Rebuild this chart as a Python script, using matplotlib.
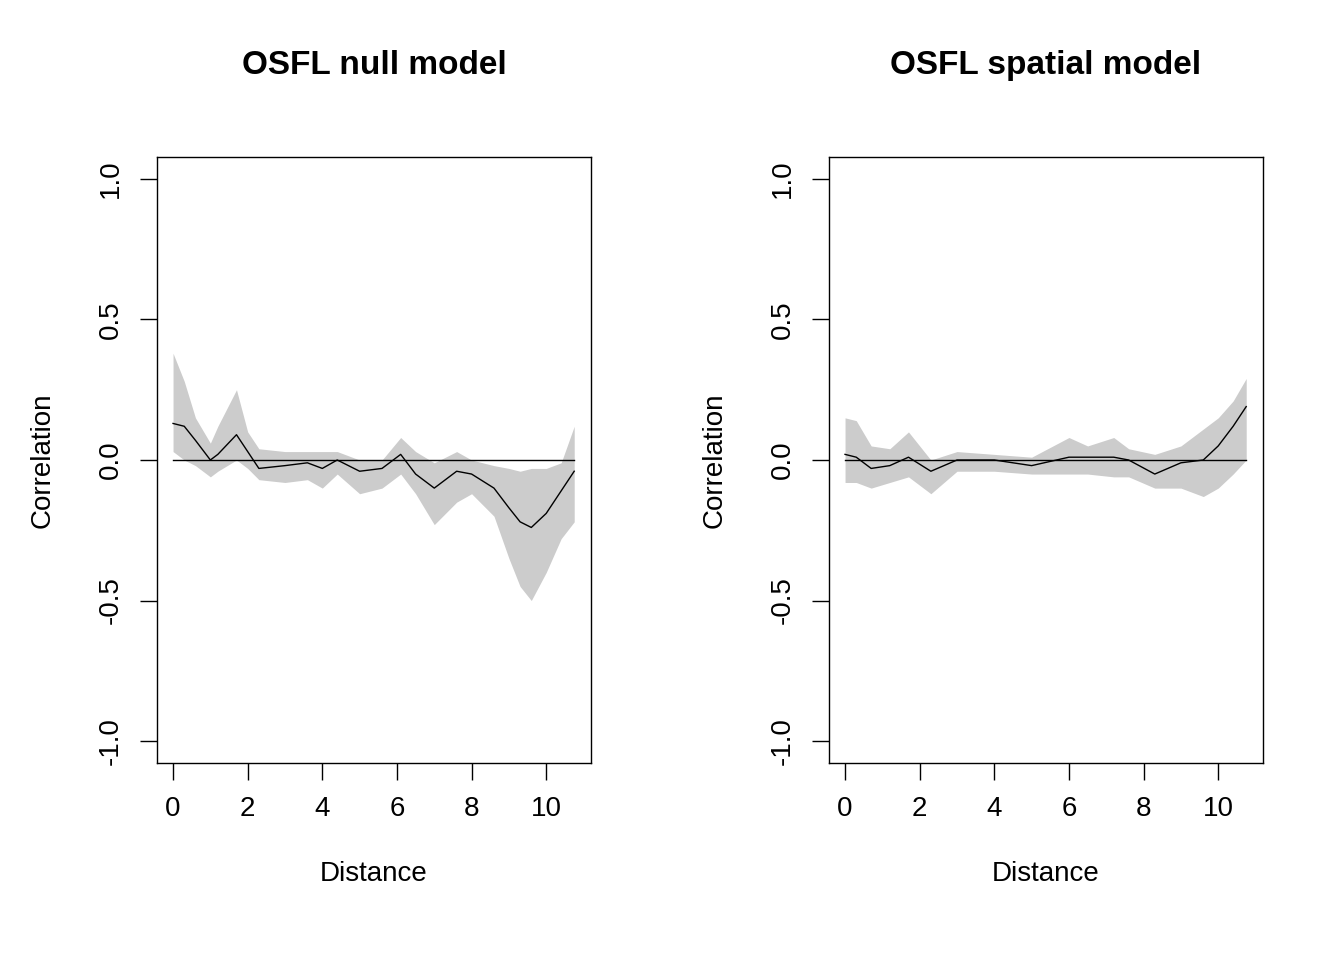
import numpy as np
from matplotlib import pyplot as plt

plt.rcParams['font.family'] = ['Liberation Sans', 'DejaVu Sans']

# null model
null_x = [0, 0.3, 0.6, 1.0, 1.2, 1.7, 2.0, 2.3, 3.0, 3.6, 4.0, 4.4, 5.0, 5.6, 6.1, 6.5, 7.0, 7.6, 8.0, 8.6, 9.0, 9.3, 9.6, 10.0, 10.4, 10.75]
null_mean = [0.13, 0.12, 0.07, 0.0, 0.02, 0.09, 0.03, -0.03, -0.02, -0.01, -0.03, 0.0, -0.04, -0.03, 0.02, -0.05, -0.10, -0.04, -0.05, -0.10, -0.17, -0.22, -0.24, -0.19, -0.11, -0.04]
null_up = [0.38, 0.28, 0.15, 0.06, 0.12, 0.25, 0.10, 0.04, 0.03, 0.03, 0.03, 0.03, 0.0, 0.0, 0.08, 0.03, -0.01, 0.03, 0.0, -0.02, -0.03, -0.04, -0.03, -0.03, -0.01, 0.12]
null_lo = [0.03, 0.0, -0.02, -0.06, -0.04, 0.0, -0.03, -0.07, -0.08, -0.07, -0.10, -0.05, -0.12, -0.10, -0.05, -0.12, -0.23, -0.15, -0.12, -0.20, -0.35, -0.45, -0.50, -0.40, -0.28, -0.22]

# spatial model
sp_x = [0, 0.3, 0.7, 1.2, 1.7, 2.3, 3.0, 4.0, 5.0, 6.0, 6.5, 7.2, 7.6, 8.3, 9.0, 9.6, 10.0, 10.4, 10.75]
sp_mean = [0.02, 0.01, -0.03, -0.02, 0.01, -0.04, 0.0, 0.0, -0.02, 0.01, 0.01, 0.01, 0.0, -0.05, -0.01, 0.0, 0.05, 0.12, 0.19]
sp_up = [0.15, 0.14, 0.05, 0.04, 0.10, 0.0, 0.03, 0.02, 0.01, 0.08, 0.05, 0.08, 0.04, 0.02, 0.05, 0.11, 0.15, 0.21, 0.29]
sp_lo = [-0.08, -0.08, -0.10, -0.08, -0.06, -0.12, -0.04, -0.04, -0.05, -0.05, -0.05, -0.06, -0.06, -0.10, -0.10, -0.13, -0.10, -0.05, 0.0]

panels = [("OSFL null model", null_x, null_mean, null_up, null_lo),
          ("OSFL spatial model", sp_x, sp_mean, sp_up, sp_lo)]

fig = plt.figure(figsize=(13.44, 9.6), dpi=100)
lefts = [157, 829]
for left, (title, x, m, up, lo) in zip(lefts, panels):
    ax = fig.add_axes([left / 1344, 197 / 960, 434 / 1344, 606 / 960])
    ax.fill_between(x, lo, up, color='#cccccc', linewidth=0)
    ax.plot(x, m, color='black', lw=1)
    ax.plot([0, x[-1]], [0, 0], color='black', lw=1)
    ax.set_xlim(-0.43, 11.2)
    ax.set_ylim(-1.078, 1.078)
    ax.set_xticks([0, 2, 4, 6, 8, 10])
    ax.set_yticks([-1.0, -0.5, 0.0, 0.5, 1.0])
    ax.set_yticklabels(['-1.0', '-0.5', '0.0', '0.5', '1.0'], rotation=90, va='center')
    ax.tick_params(direction='out', length=12, width=1, labelsize=20, pad=12)
    for s in ax.spines.values():
        s.set_linewidth(1)
    ax.set_xlabel("Distance", fontsize=20, labelpad=28)
    ax.set_ylabel("Correlation", fontsize=20, labelpad=30)
    ax.set_title(title, fontsize=24, fontweight='bold', pad=60)

fig.savefig("out.png", dpi=100)
